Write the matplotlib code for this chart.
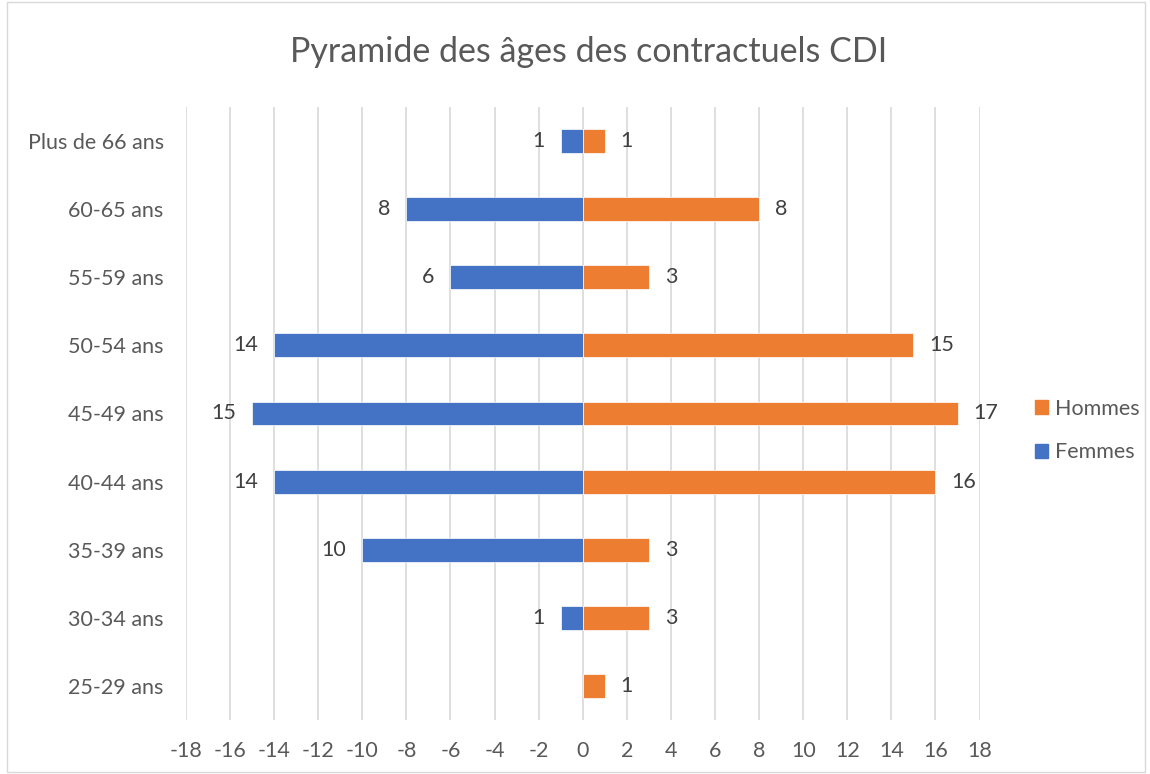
import matplotlib
matplotlib.use("Agg")
import matplotlib.pyplot as plt
from matplotlib.patches import Rectangle, Patch

categories = ["25-29 ans", "30-34 ans", "35-39 ans", "40-44 ans", "45-49 ans",
              "50-54 ans", "55-59 ans", "60-65 ans", "Plus de 66 ans"]
femmes = [0, 1, 10, 14, 15, 14, 6, 8, 1]
hommes = [1, 3, 3, 16, 17, 15, 3, 8, 1]
xticks = list(range(-18, 19, 2))

BLUE = "#4472C4"
ORANGE = "#ED7D31"
TXT = "#595959"
GRID = "#D9D9D9"
FONT = "Lato"

plt.rcParams['font.family'] = [FONT, 'DejaVu Sans']

fig = plt.figure(figsize=(11.5, 7.74), dpi=100)
ax = fig.add_axes([0.1617, 0.0698, 0.8518 - 0.1617, 0.8618 - 0.0698])

y = list(range(len(categories)))
h = 0.35
fem_neg = [-v for v in femmes]
ax.barh(y, fem_neg, height=h, color=BLUE, edgecolor="white", linewidth=0.5, zorder=3)
ax.barh(y, hommes, height=h, color=ORANGE, edgecolor="white", linewidth=0.5, zorder=3)

for yi, v in zip(y, femmes):
    if v:
        ax.annotate(str(v), xy=(-v, yi), xytext=(-11.5, 0), textcoords="offset points",
                    ha="right", va="center", fontsize=15.5, color="#404040")
for yi, v in zip(y, hommes):
    if v:
        ax.annotate(str(v), xy=(v, yi), xytext=(11.5, 0), textcoords="offset points",
                    ha="left", va="center", fontsize=15.5, color="#404040")

ax.set_xlim(-18, 18)
ax.set_ylim(-0.5, len(categories) - 0.5)
ax.set_xticks(xticks)
ax.set_xticklabels([str(t) for t in xticks])
ax.set_yticks(y)
ax.set_yticklabels(categories)
ax.tick_params(axis="x", length=0, pad=15, labelsize=15.5, labelcolor=TXT)
ax.tick_params(axis="y", length=0, pad=16, labelsize=15.5, labelcolor=TXT)
ax.grid(axis="x", color=GRID, linewidth=1.2, zorder=0)
for s in ax.spines.values():
    s.set_visible(False)

fig.text(0.5 * (0.1617 + 0.8518) + 0.005, 1 - 52 / 774, "Pyramide des âges des contractuels CDI",
         ha="center", va="center", fontsize=24.5, color=TXT)

handles = [Patch(color=ORANGE, label="Hommes"), Patch(color=BLUE, label="Femmes")]
fig.legend(handles=handles, loc="center left", bbox_to_anchor=(0.883, 0.4438),
           frameon=False, fontsize=15.5, labelspacing=1.1, handlelength=0.6,
           handleheight=0.6, handletextpad=0.35, labelcolor=TXT)

fig.patches.append(Rectangle((0.006, 0.002), 0.99, 0.996, transform=fig.transFigure,
                             fill=False, edgecolor=GRID, linewidth=1))

fig.savefig("out.png", dpi=100)
